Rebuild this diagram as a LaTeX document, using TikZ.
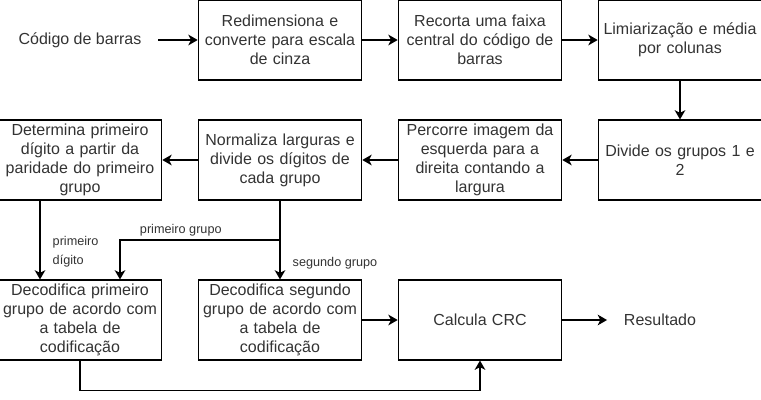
\documentclass[tikz,border=0pt]{standalone}
\usepackage{fontspec}
\setmainfont{Liberation Sans}
\usetikzlibrary{arrows.meta, positioning}

\begin{document}
\begin{tikzpicture}[x=0.75pt, y=-0.75pt,
    block/.style={draw, line width=0.8pt, rectangle, minimum width=120pt, minimum height=60pt, inner ysep=1pt, text width=116pt, align=center, font=\fontsize{12}{14.25}\selectfont, text=black!80},
    terminal/.style={inner xsep=12.5pt, font=\fontsize{12}{14.25}\selectfont, text=black!80},
    flow/.style={-{Stealth[length=7pt, width=8pt, inset=2pt]}, line width=1.1pt},
    tag/.style={inner sep=0pt, align=left, font=\fontsize{9.5}{14.25}\selectfont, text=black!80}]
    \useasboundingbox (0,0) rectangle (761,400);

    % Input and first row
    \node[terminal] (Input) at (80,40) {Código de barras};
    \node[block] (Resize) at (280,40) {Redimensiona e\\converte para escala\\de cinza};
    \node[block] (Crop) at (480,40) {Recorta uma faixa\\central do código de\\barras};
    \node[block] (Threshold) at (680,40) {Limiarização e média\\por colunas};

    % Second row
    \node[block] (Split) at (680,160) {Divide os grupos 1 e\\2};
    \node[block] (Scan) at (480,160) {Percorre imagem da\\esquerda para a\\direita contando a\\largura};
    \node[block] (Normalize) at (280,160) {Normaliza larguras e\\divide os dígitos de\\cada grupo};
    \node[block] (FirstDigit) at (80,160) {Determina primeiro\\dígito a partir da\\paridade do primeiro\\grupo};

    % Third row
    \node[block] (DecodeFirst) at (80,320) {Decodifica primeiro\\grupo de acordo com\\a tabela de\\codificação};
    \node[block] (DecodeSecond) at (280,320) {Decodifica segundo\\grupo de acordo com\\a tabela de\\codificação};
    \node[block] (Crc) at (480,320) {Calcula CRC};
    \node[terminal] (Result) at (660,320) {Resultado};

    % Branch point below Normalize
    \coordinate (Branch) at (280,240);

    % Arrows
    \draw[flow] (Input) -- (Resize);
    \draw[flow] (Resize) -- (Crop);
    \draw[flow] (Crop) -- (Threshold);
    \draw[flow] (Threshold) -- (Split);
    \draw[flow] (Split) -- (Scan);
    \draw[flow] (Scan) -- (Normalize);
    \draw[flow] (Normalize) -- (FirstDigit);
    \draw[flow] ([xshift=-30pt]FirstDigit.south) -- node[tag, pos=0.65, right=9pt] {primeiro\\dígito} ([xshift=-30pt]DecodeFirst.north);
    \draw[flow] (Normalize) -- node[tag, pos=0.79, right=9pt] {segundo grupo} (DecodeSecond);
    \draw[flow] (Branch) -| node[tag, pos=0.31, above=2pt] {primeiro grupo} ([xshift=30pt]DecodeFirst.north);
    \draw[flow] (DecodeSecond) -- (Crc);
    \draw[flow] (Crc) -- (Result);
    \draw[flow] (DecodeFirst.south) -- ++(0,30) -| (Crc.south);
\end{tikzpicture}
\end{document}
